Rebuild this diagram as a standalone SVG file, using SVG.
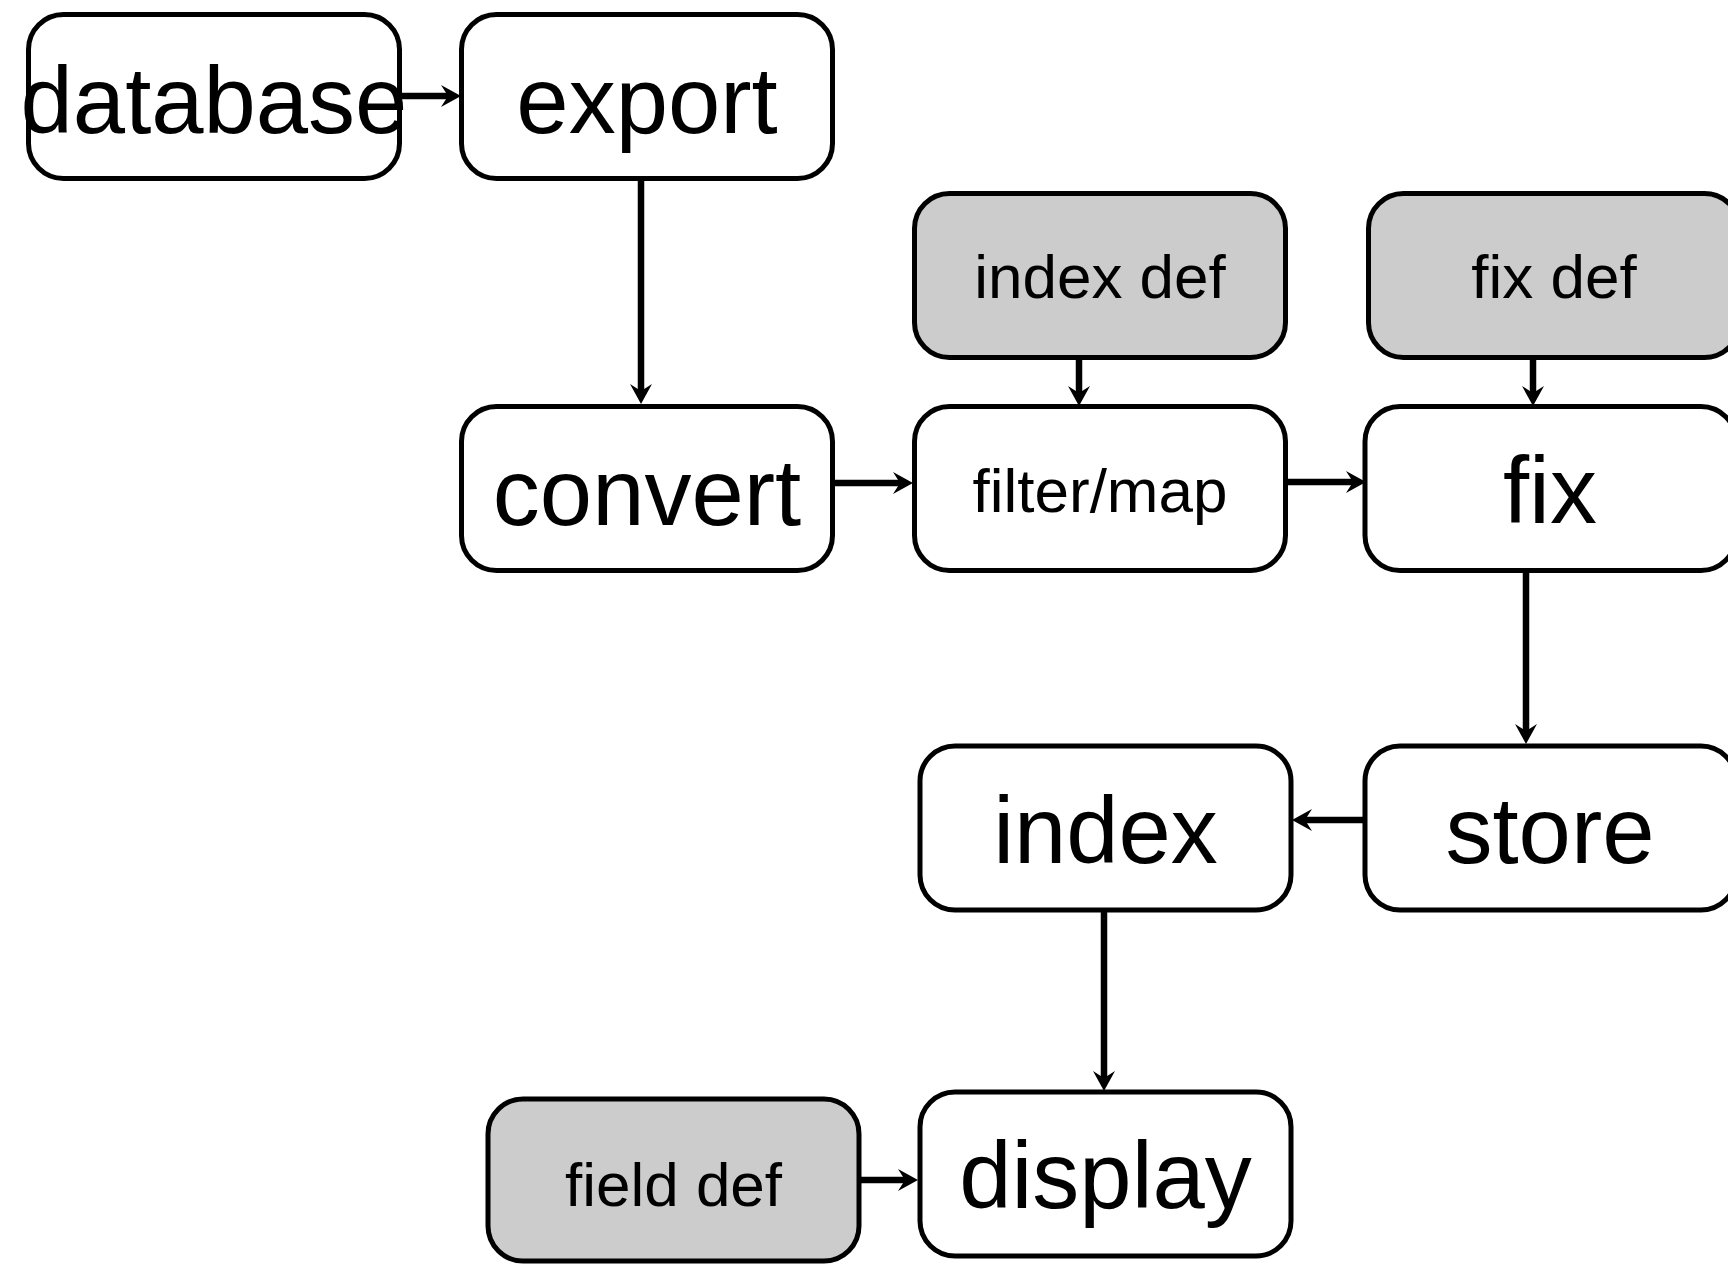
<svg xmlns="http://www.w3.org/2000/svg" width="1728" height="1264" viewBox="0 0 1728 1264">
<defs>
<style>
.box{fill:#ffffff;stroke:#000000;stroke-width:5}
.def{fill:#cccccc;stroke:#000000;stroke-width:5}
.big{font-family:"Liberation Sans",Arial,sans-serif;font-size:94px;fill:#000000;text-anchor:middle}
.small{font-family:"Liberation Sans",Arial,sans-serif;font-size:62px;fill:#000000;text-anchor:middle}
.edge{fill:none;stroke:#000000;stroke-width:6.5;marker-end:url(#arrow)}
</style>
<marker id="arrow" markerUnits="userSpaceOnUse" viewBox="-8 -12 22 24" markerWidth="22" markerHeight="24" refX="0" refY="0" orient="auto">
<path d="M13,0 L-7,-11 L0,0 L-7,11 Z" fill="#000000"/>
</marker>
</defs>
<rect width="1728" height="1264" fill="#ffffff"/>
<g id="connectors">
<line class="edge" x1="401" y1="96" x2="448" y2="96"/>
<line class="edge" x1="641" y1="180" x2="641" y2="391"/>
<line class="edge" x1="834" y1="483" x2="900" y2="483"/>
<line class="edge" x1="1079" y1="359" x2="1079" y2="393"/>
<line class="edge" x1="1533" y1="359" x2="1533" y2="393"/>
<line class="edge" x1="1287" y1="482" x2="1353" y2="482"/>
<line class="edge" x1="1526" y1="573" x2="1526" y2="731"/>
<line class="edge" x1="1363" y1="820" x2="1305" y2="820"/>
<line class="edge" x1="1104" y1="912" x2="1104" y2="1078"/>
<line class="edge" x1="861" y1="1180" x2="905" y2="1180"/>
</g>
<g id="database">
<rect class="box" x="28.5" y="14.5" width="371" height="164" rx="35" ry="35"/>
<text class="big" x="214" y="133">database</text>
</g>
<g id="export">
<rect class="box" x="461.5" y="14.5" width="371" height="164" rx="35" ry="35"/>
<text class="big" x="647" y="133">export</text>
</g>
<g id="index-def">
<rect class="def" x="914.5" y="193.5" width="371" height="164" rx="35" ry="35"/>
<text class="small" x="1100" y="298">index def</text>
</g>
<g id="fix-def">
<rect class="def" x="1368.5" y="193.5" width="371" height="164" rx="35" ry="35"/>
<text class="small" x="1554" y="298">fix def</text>
</g>
<g id="convert">
<rect class="box" x="461.5" y="406.5" width="371" height="164" rx="35" ry="35"/>
<text class="big" x="647" y="525">convert</text>
</g>
<g id="filter-map">
<rect class="box" x="914.5" y="406.5" width="371" height="164" rx="35" ry="35"/>
<text class="small" x="1100" y="512">filter/map</text>
</g>
<g id="fix">
<rect class="box" x="1365" y="406.5" width="371" height="164" rx="35" ry="35"/>
<text class="big" x="1550" y="523">fix</text>
</g>
<g id="index">
<rect class="box" x="920" y="746" width="371" height="164" rx="35" ry="35"/>
<text class="big" x="1105.5" y="863">index</text>
</g>
<g id="store">
<rect class="box" x="1365" y="746" width="371" height="164" rx="35" ry="35"/>
<text class="big" x="1550" y="863">store</text>
</g>
<g id="field-def">
<rect class="def" x="488" y="1099" width="371" height="162" rx="35" ry="35"/>
<text class="small" x="673.5" y="1206">field def</text>
</g>
<g id="display">
<rect class="box" x="920" y="1092" width="371" height="164" rx="35" ry="35"/>
<text class="big" x="1105.5" y="1208">display</text>
</g>
</svg>
